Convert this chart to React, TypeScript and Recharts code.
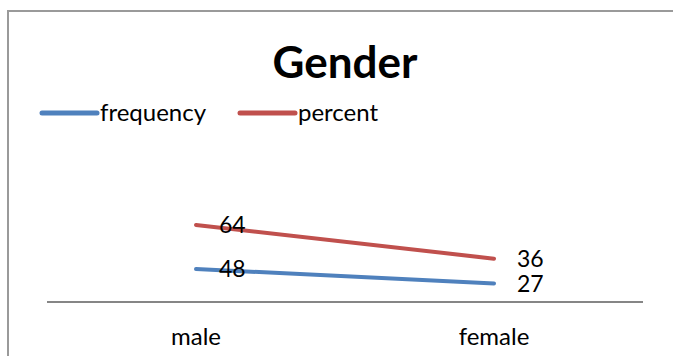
import { Area, AreaChart, LabelList, XAxis, YAxis } from "recharts"

const categories = ["male", "female"]
const frequency = [48, 27]
const percent = [64, 36]

const seriesNames = ["frequency", "percent"]
const seriesColors = ["#4f81bd", "#c0504d"]

const FONT = "Lato, 'Open Sans', sans-serif"

const data = categories.map((name, i) => ({
  name,
  frequency: frequency[i],
  percent: percent[i],
}))

export default function App() {
  return (
    <div
      style={{
        position: "absolute",
        left: 0,
        top: 0,
        width: 673,
        height: 356,
        overflow: "hidden",
        background: "#fff",
        fontFamily: FONT,
      }}
    >
      <AreaChart
        width={673}
        height={356}
        data={data}
        margin={{ top: 130, right: 30, left: 47, bottom: 0 }}
        style={{ position: "absolute", left: 0, top: 0 }}
      >
        <XAxis
          dataKey="name"
          height={54}
          padding={{ left: 149, right: 149 }}
          axisLine={{ stroke: "#868686", strokeWidth: 2 }}
          tickLine={false}
          tickMargin={20}
          tick={{ fill: "#000", fontSize: 24, fontFamily: FONT }}
        />
        <YAxis hide width={0} type="number" domain={[0, 250]} />
        <Area
          type="linear"
          dataKey="frequency"
          stackId="g"
          stroke={seriesColors[0]}
          strokeWidth={4}
          strokeLinecap="round"
          fill="none"
          dot={false}
          activeDot={false}
          isAnimationActive={false}
        >
          <LabelList
            dataKey="frequency"
            position="right"
            offset={23}
            fill="#000"
            fontSize={23}
            fontFamily={FONT}
          />
        </Area>
        <Area
          type="linear"
          dataKey="percent"
          stackId="g"
          stroke={seriesColors[1]}
          strokeWidth={4}
          strokeLinecap="round"
          fill="none"
          dot={false}
          activeDot={false}
          isAnimationActive={false}
        >
          <LabelList
            dataKey="percent"
            position="right"
            offset={23}
            fill="#000"
            fontSize={23}
            fontFamily={FONT}
          />
        </Area>
      </AreaChart>
      <svg
        width={673}
        height={356}
        style={{ position: "absolute", left: 0, top: 0, pointerEvents: "none" }}
      >
        {/* outer frame, cropped at right and bottom in the original */}
        <path d="M8,356 V11 H673" fill="none" stroke="#9a9a9a" strokeWidth={2} />
        <text
          x={345}
          y={78}
          textAnchor="middle"
          fontSize={44}
          fontWeight="bold"
          fontFamily={FONT}
          fill="#000"
        >
          Gender
        </text>
        {seriesNames.map((s, i) => {
          const x0 = i === 0 ? 42 : 240
          return (
            <g key={s}>
              <line
                x1={x0}
                x2={x0 + 55}
                y1={113}
                y2={113}
                stroke={seriesColors[i]}
                strokeWidth={5}
                strokeLinecap="round"
              />
              <text x={x0 + 58} y={121} fontSize={24} fontFamily={FONT} fill="#000">
                {s}
              </text>
            </g>
          )
        })}
      </svg>
    </div>
  )
}
